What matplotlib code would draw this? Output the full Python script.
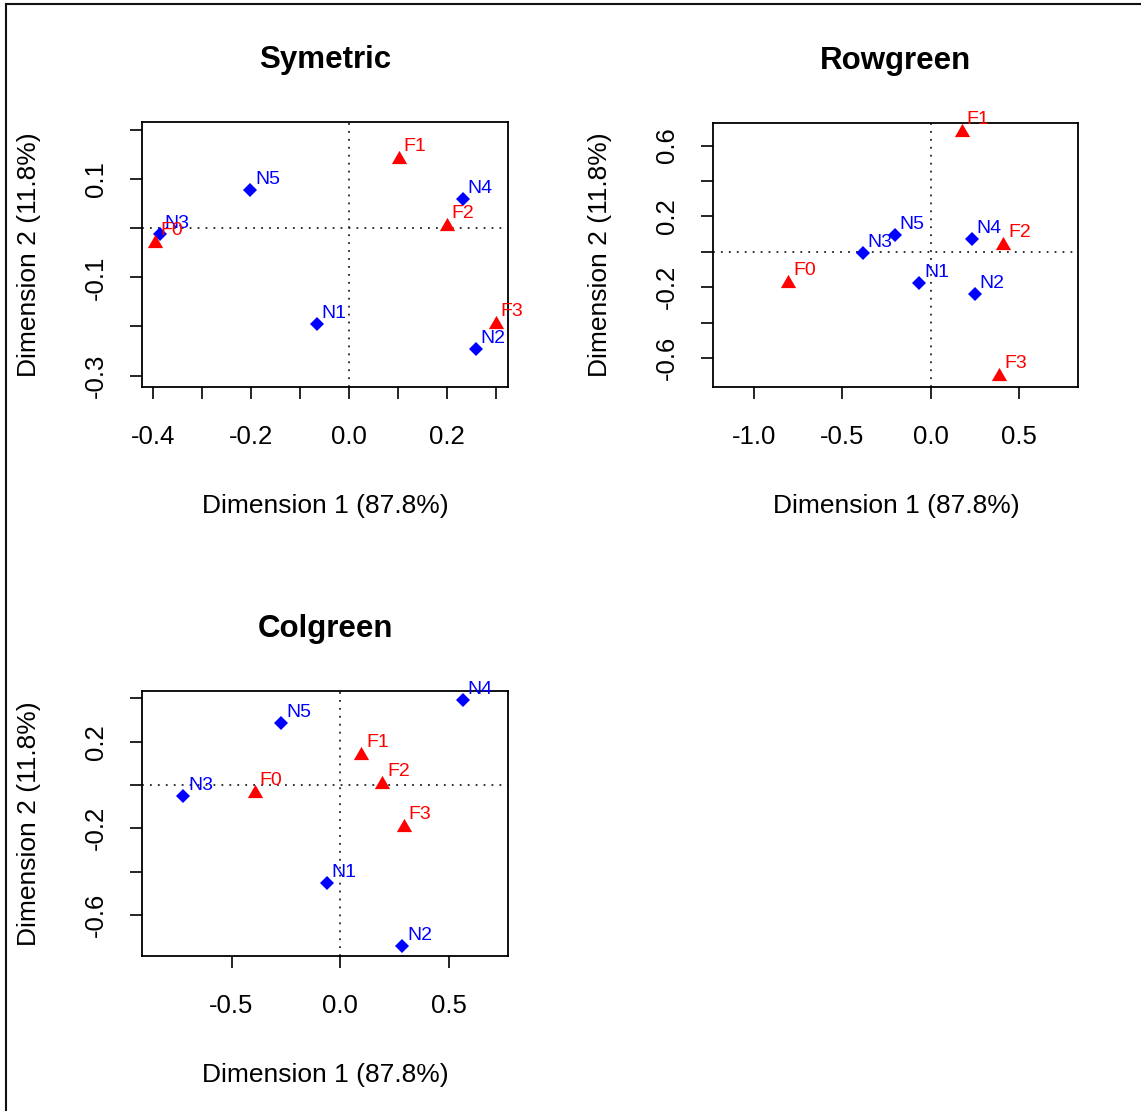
import matplotlib
matplotlib.use("Agg")
import matplotlib.pyplot as plt
from matplotlib.lines import Line2D

plt.rcParams['font.family'] = ['Liberation Sans', 'DejaVu Sans']
plt.rcParams['axes.unicode_minus'] = False

# ---- values
row_names = ["N1", "N2", "N3", "N4", "N5"]
col_names = ["F0", "F1", "F2", "F3"]

# Symetric
sym_row_x = [-0.065, 0.259, -0.385, 0.232, -0.201]
sym_row_y = [-0.194, -0.245, -0.012, 0.059, 0.078]
sym_col_x = [-0.395, 0.102, 0.200, 0.299]
sym_col_y = [-0.027, 0.145, 0.009, -0.190]

# Rowgreen
rg_row_x = [-0.066, 0.250, -0.384, 0.232, -0.202]
rg_row_y = [-0.179, -0.241, -0.006, 0.070, 0.094]
rg_col_x = [-0.804, 0.175, 0.410, 0.386]
rg_col_y = [-0.166, 0.688, 0.047, -0.693]

# Colgreen
cg_row_x = [-0.061, 0.287, -0.722, 0.564, -0.272]
cg_row_y = [-0.454, -0.742, -0.051, 0.393, 0.288]
cg_col_x = [-0.392, 0.097, 0.195, 0.292]
cg_col_y = [-0.026, 0.149, 0.015, -0.185]

titles = ["Symetric", "Rowgreen", "Colgreen"]
xlab = "Dimension 1 (87.8%)"
ylab = "Dimension 2 (11.8%)"

sym_xticks = [-0.4, -0.3, -0.2, -0.1, 0.0, 0.1, 0.2, 0.3]
sym_xtl = ["-0.4", "", "-0.2", "", "0.0", "", "0.2", ""]
sym_yticks = [-0.3, -0.2, -0.1, 0.0, 0.1, 0.2]
sym_ytl = ["-0.3", "", "-0.1", "", "0.1", ""]

rg_xticks = [-1.0, -0.5, 0.0, 0.5]
rg_xtl = ["-1.0", "-0.5", "0.0", "0.5"]
rg_yticks = [-0.6, -0.4, -0.2, 0.0, 0.2, 0.4, 0.6]
rg_ytl = ["-0.6", "", "-0.2", "", "0.2", "", "0.6"]

cg_xticks = [-0.5, 0.0, 0.5]
cg_xtl = ["-0.5", "0.0", "0.5"]
cg_yticks = [-0.6, -0.4, -0.2, 0.0, 0.2, 0.4]
cg_ytl = ["-0.6", "", "-0.2", "", "0.2", ""]

fig = plt.figure(figsize=(11.41, 11.11), dpi=100)

# triangle like R pch 17
tri = [(-1, -0.866), (1, -0.866), (0, 0.866)]
dots = (0, (1, 3.4))


def panel(rect, title, rx, ry, cx, cy, xlim, ylim, xt, xtl, yt, ytl):
    ax = fig.add_axes(rect)
    ax.axhline(0, color='#222222', lw=1.3, ls=dots)
    ax.axvline(0, color='#222222', lw=1.3, ls=dots)
    ax.plot(rx, ry, ls='none', marker='D', ms=7.2, color='blue', mew=0, clip_on=False)
    ax.plot(cx, cy, ls='none', marker=tri, ms=11, color='red', mew=0, clip_on=False)
    for x, y, s in zip(rx, ry, row_names):
        ax.annotate(s, (x, y), xytext=(3.5, 4.3), textcoords='offset points',
                    color='blue', fontsize=14)
    for x, y, s in zip(cx, cy, col_names):
        ax.annotate(s, (x, y), xytext=(3.5, 4.3), textcoords='offset points',
                    color='red', fontsize=14)
    ax.set_xlim(xlim)
    ax.set_ylim(ylim)
    ax.set_xticks(xt)
    ax.set_xticklabels(xtl)
    ax.set_yticks(yt)
    ax.set_yticklabels(ytl, rotation=90, va='center')
    ax.tick_params(direction='out', length=8.5, width=1.2, labelsize=18.5, colors='black')
    ax.tick_params(axis='x', pad=19)
    ax.tick_params(axis='y', pad=16)
    for sp in ax.spines.values():
        sp.set_linewidth(1.3)
    ax.set_title(title, fontsize=22.5, fontweight='bold', pad=39)
    ax.set_xlabel(xlab, fontsize=19, va='center')
    ax.xaxis.set_label_coords(0.5, -0.45)
    ax.set_ylabel(ylab, fontsize=19, va='center')
    ax.yaxis.set_label_coords(-0.311, 0.5)
    return ax


panel([0.1247, 0.6517, 0.3206, 0.2385], titles[0], sym_row_x, sym_row_y, sym_col_x, sym_col_y,
      (-0.421, 0.3245), (-0.323, 0.216), sym_xticks, sym_xtl, sym_yticks, sym_ytl)
panel([0.6252, 0.6519, 0.3199, 0.2376], titles[1], rg_row_x, rg_row_y, rg_col_x, rg_col_y,
      (-1.228, 0.834), (-0.763, 0.729), rg_xticks, rg_xtl, rg_yticks, rg_ytl)
panel([0.1247, 0.1398, 0.3205, 0.2383], titles[2], cg_row_x, cg_row_y, cg_col_x, cg_col_y,
      (-0.911, 0.773), (-0.788, 0.434), cg_xticks, cg_xtl, cg_yticks, cg_ytl)

# screenshot border (top and left only)
fig.add_artist(Line2D([5.8 / 1141, 1], [1 - 4.3 / 1111, 1 - 4.3 / 1111], color='#111111', lw=1.5))
fig.add_artist(Line2D([5.8 / 1141, 5.8 / 1141], [0, 1 - 4.3 / 1111], color='#111111', lw=1.5))

fig.savefig("out.png", dpi=100)
